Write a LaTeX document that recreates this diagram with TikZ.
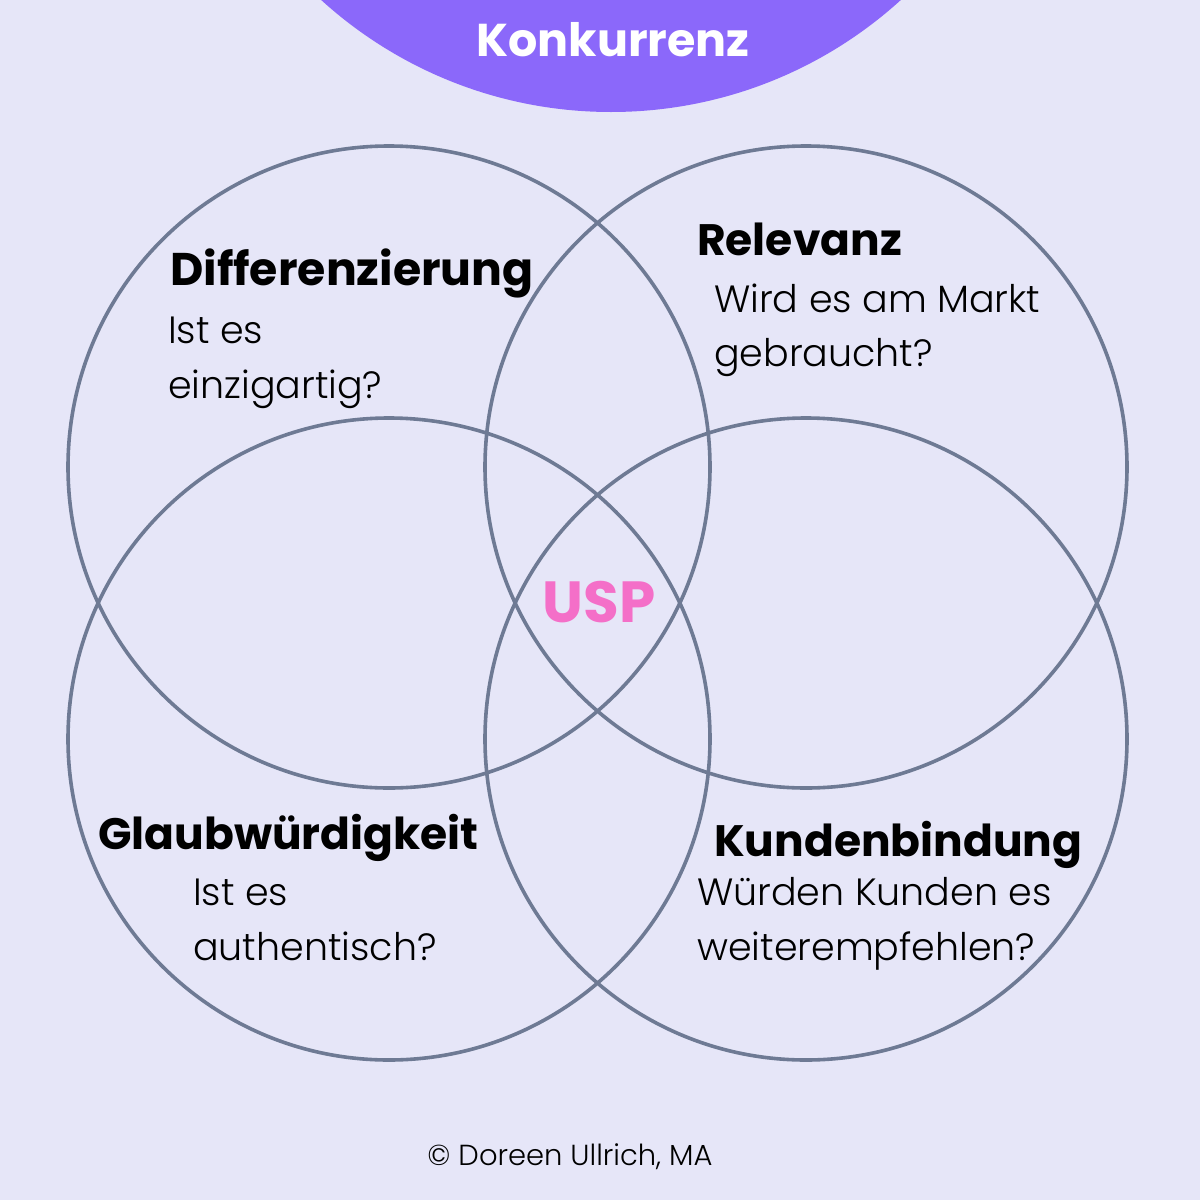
\documentclass[tikz,border=0pt]{standalone}
\usepackage{fontspec}
\setmainfont{Poppins}
\newfontfamily\bodyfont{Poppins Light}
\definecolor{bg}{HTML}{E6E6F8}
\definecolor{purp}{HTML}{8B68FA}
\definecolor{ring}{HTML}{6E7A94}
\definecolor{pink}{HTML}{F46FC8}
\begin{document}
\begin{tikzpicture}[x=1pt,y=-1pt,
  ring/.style={draw=ring,line width=3.6pt},
  head/.style={anchor=base west,inner sep=0pt,font=\fontsize{44}{50}\selectfont\bfseries},
  body/.style={anchor=base west,inner sep=0pt,font=\bodyfont\fontsize{38}{44}\selectfont}]
\useasboundingbox (0,0) rectangle (1200,1200);
\fill[bg] (0,0) rectangle (1200,1200);
\begin{scope}
\clip (0,0) rectangle (1200,1200);
\fill[purp] (611,-319) circle (431);
\end{scope}
\node[anchor=base,inner sep=0pt,text=white,font=\fontsize{46}{50}\selectfont\bfseries] (konk) at (613,56) {Konkurrenz};
\draw[ring] (389,467) circle (321);
\draw[ring] (806,467) circle (321);
\draw[ring] (389,739) circle (321);
\draw[ring] (806,739) circle (321);
\node[anchor=base,inner sep=0pt,text=pink,font=\fontsize{58}{60}\selectfont\bfseries] (usp) at (599,622) {USP};
\node[head,font=\fontsize{45.8}{50}\selectfont\bfseries] (d) at (170,285) {Differenzierung};
\node[body] (d1) at (168,343) {Ist es};
\node[body] (d2) at (168,398) {einzigartig?};
\node[head] (r) at (697,255) {Relevanz};
\node[body] (r1) at (714,312) {Wird es am Markt};
\node[body] (r2) at (714,366) {gebraucht?};
\node[head] (g) at (98,849) {Glaubwürdigkeit};
\node[body] (g1) at (193,905) {Ist es};
\node[body] (g2) at (193,960) {authentisch?};
\node[head] (k) at (714,856) {Kundenbindung};
\node[body] (k1) at (697,905) {Würden Kunden es};
\node[body] (k2) at (697,960) {weiterempfehlen?};
\node[anchor=base,inner sep=0pt,font=\bodyfont\fontsize{29}{32}\selectfont] (c) at (570,1165) {© Doreen Ullrich, MA};
\end{tikzpicture}
\end{document}
